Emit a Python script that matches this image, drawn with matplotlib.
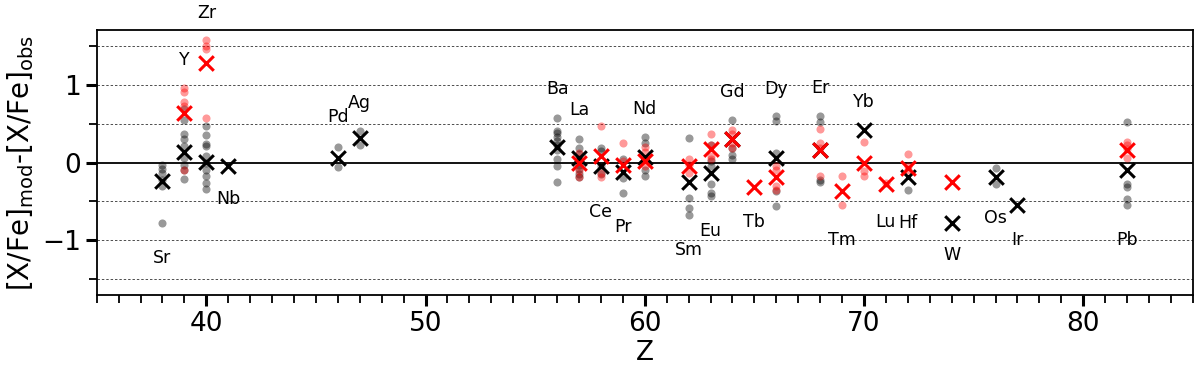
import numpy as np
import matplotlib
matplotlib.use("Agg")
import matplotlib.pyplot as plt
from matplotlib.ticker import MultipleLocator

# individual model points (grey = set A, red = set B) and their means (crosses)
grey_z = [38, 38, 38, 38, 38, 38,
          39, 39, 39, 39, 39, 39, 39, 39, 39,
          40, 40, 40, 40, 40, 40, 40, 40, 40, 40,
          46, 46, 47, 47,
          56, 56, 56, 56, 56, 56, 56, 56, 56, 56,
          57, 57, 57, 57, 57, 57, 57, 57,
          58, 58, 58, 58,
          59, 59, 59,
          60, 60, 60, 60, 60,
          62, 62, 62, 62,
          63, 63, 63, 63, 63, 63,
          64, 64, 64, 64,
          66, 66, 66, 66, 66,
          68, 68, 68, 68,
          72,
          76, 76,
          82, 82, 82, 82, 82]
grey_v = [-0.03, -0.08, -0.13, -0.22, -0.30, -0.77,
          0.68, 0.54, 0.36, 0.30, 0.21, 0.06, -0.03, -0.09, -0.21,
          0.47, 0.35, 0.24, 0.21, 0.08, 0.0, -0.09, -0.17, -0.26, -0.34,
          0.20, -0.06, 0.40, 0.23,
          0.57, 0.41, 0.38, 0.33, 0.27, 0.22, 0.16, 0.05, -0.04, -0.25,
          0.30, 0.19, 0.11, 0.05, -0.03, -0.08, -0.15, -0.18,
          0.19, 0.15, -0.05, -0.15,
          0.04, -0.20, -0.39,
          0.33, 0.25, 0.04, -0.09, -0.17,
          0.31, -0.45, -0.58, -0.67,
          0.23, 0.02, -0.04, -0.28, -0.39, -0.43,
          0.54, 0.19, 0.10, 0.05,
          0.59, 0.53, 0.12, -0.37, -0.56,
          0.60, 0.52, -0.22, -0.25,
          -0.35,
          -0.07, -0.27,
          0.52, -0.28, -0.32, -0.47, -0.55]

red_z = [39, 39, 39, 39, 39,
         40, 40, 40, 40,
         57, 57, 57, 57,
         58, 58, 58,
         59, 59,
         60, 60, 60, 60,
         62, 62, 62,
         63, 63, 63, 63,
         64, 64, 64, 64,
         66, 66, 66, 66,
         68, 68, 68, 68,
         69, 69,
         70, 70, 70,
         71,
         72, 72, 72,
         82, 82, 82, 82]
red_v = [0.95, 0.91, 0.77, 0.73, -0.09,
         1.57, 1.49, 1.46, 0.57,
         0.12, 0.04, -0.11, -0.18,
         0.47, -0.13, -0.18,
         0.25, 0.02,
         0.20, 0.13, 0.04, -0.05,
         0.04, -0.03, -0.13,
         0.37, 0.22, 0.08, 0.05,
         0.42, 0.36, 0.25, 0.18,
         -0.05, -0.09, -0.30, -0.35,
         0.43, 0.25, 0.19, -0.17,
         -0.17, -0.55,
         0.26, -0.11, -0.17,
         -0.26,
         0.11, -0.04, -0.09,
         0.26, 0.22, 0.17, 0.06]

grey_mean_z = [38, 39, 40, 41, 46, 47, 56, 57, 58, 59, 60, 62, 63, 64,
               66, 68, 70, 72, 74, 76, 77, 82]
grey_mean_v = [-0.24, 0.13, 0.01, -0.04, 0.06, 0.31, 0.20, 0.06, -0.05, -0.12,
               0.07, -0.25, -0.14, 0.30, 0.06, 0.16, 0.42, -0.19, -0.77, -0.19,
               -0.55, -0.09]

red_mean_z = [39, 40, 57, 58, 59, 60, 62, 63, 64, 65, 66, 68, 69, 70, 71, 72, 74, 82]
red_mean_v = [0.64, 1.27, 0.0, 0.08, -0.03, 0.02, -0.04, 0.17, 0.30, -0.31,
              -0.18, 0.16, -0.36, 0.0, -0.28, -0.07, -0.25, 0.16]

elements = ["Sr", "Y", "Zr", "Nb", "Pd", "Ag", "Ba", "La", "Ce", "Pr", "Nd",
            "Sm", "Eu", "Gd", "Tb", "Dy", "Er", "Tm", "Yb", "Lu", "Hf", "W",
            "Os", "Ir", "Pb"]
label_z = [38, 39, 40, 41, 46, 47, 56, 57, 58, 59, 60, 62, 63, 64, 65, 66,
           68, 69, 70, 71, 72, 74, 76, 77, 82]
label_y = [-1.22, 1.32, 1.92, -0.47, 0.58, 0.76, 0.94, 0.67, -0.63, -0.83,
           0.69, -1.12, -0.88, 0.91, -0.76, 0.94, 0.96, -0.99, 0.77, -0.76,
           -0.77, -1.19, -0.71, -0.99, -0.99]

fig = plt.figure(figsize=(12, 3.74), dpi=100)
ax = fig.add_axes([0.0806, 0.211, 0.9134, 0.709])

ax.scatter(grey_z, grey_v, s=34, color="black", alpha=0.4, lw=0, zorder=3)
ax.scatter(red_z, red_v, s=34, color="red", alpha=0.4, lw=0, zorder=3)
ax.scatter(grey_mean_z, grey_mean_v, s=110, marker="x", color="black",
           lw=2.2, zorder=4)
ax.scatter(red_mean_z, red_mean_v, s=110, marker="x", color="red",
           lw=2.2, zorder=5)

for name, z, y in zip(elements, label_z, label_y):
    ax.text(z, y, name, ha="center", va="center", fontsize=12.5, clip_on=False)

ax.axhline(0, color="black", lw=1.3, zorder=2)
for yv in [-1.5, -1.0, -0.5, 0.5, 1.0, 1.5]:
    ax.axhline(yv, color="0.3", lw=0.7, ls=(0, (2.5, 2)), zorder=1)

ax.set_xlim(35, 85)
ax.set_ylim(-1.7, 1.7)
ax.xaxis.set_major_locator(MultipleLocator(10))
ax.xaxis.set_minor_locator(MultipleLocator(1))
ax.yaxis.set_major_locator(MultipleLocator(1))
ax.yaxis.set_minor_locator(MultipleLocator(0.5))
ax.tick_params(which="major", length=8, width=2.2, labelsize=19)
ax.tick_params(which="minor", length=6, width=1.3)
for sp in ax.spines.values():
    sp.set_linewidth(1.3)

ax.set_xlabel("Z", fontsize=19, labelpad=2)
ax.set_ylabel(r"[X/Fe]$_{\rm mod}$-[X/Fe]$_{\rm obs}$", fontsize=20, labelpad=4)

fig.savefig("out.png", dpi=100, facecolor="white")
